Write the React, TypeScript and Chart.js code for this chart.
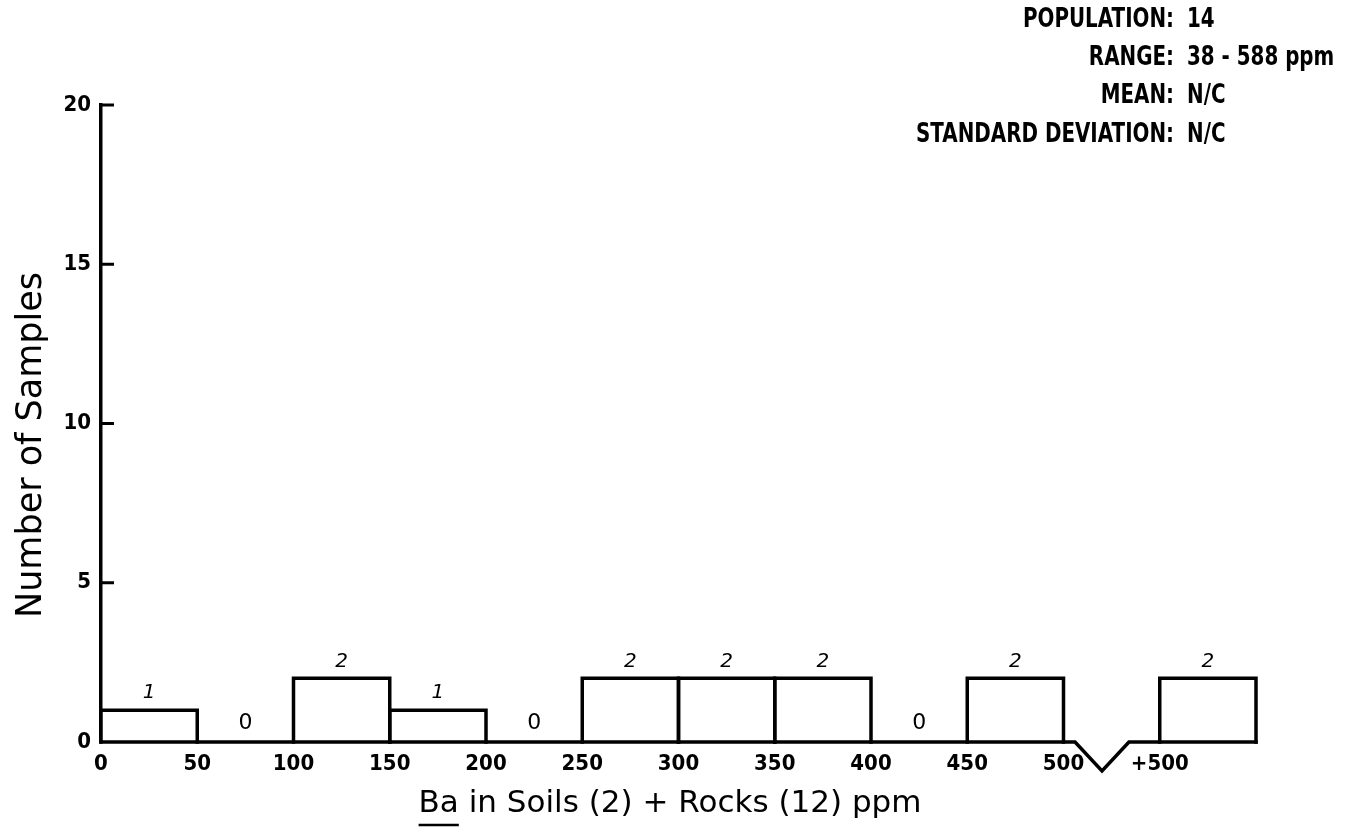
import React, { useEffect, useRef } from "react";
import { Chart, registerables } from "chart.js";

Chart.register(...registerables);

// ---- data ----
const binStarts = [0, 50, 100, 150, 200, 250, 300, 350, 400, 450, 550];
const binCounts = [1, 0, 2, 1, 0, 2, 2, 2, 0, 2, 2];
const binWidth = 50;
const xTickValues = [0, 50, 100, 150, 200, 250, 300, 350, 400, 450, 500, 550];
const xTickLabels = ["0", "50", "100", "150", "200", "250", "300", "350", "400", "450", "500", "+500"];
const yTickValues = [0, 5, 10, 15, 20];
const statLabels = ["POPULATION:", "RANGE:", "MEAN:", "STANDARD DEVIATION:"];
const statValues = ["14", "38 - 588 ppm", "N/C", "N/C"];
const xTitleUnderlined = "Ba";
const xTitleRest = " in Soils (2) + Rocks (12) ppm";
const yTitle = "Number of Samples";
const axisBreak = [506, 520, 534]; // start, bottom of V, end (x units)

const FONT = "'DejaVu Sans', sans-serif";
const COND = "'DejaVu Sans Condensed', 'Liberation Sans Narrow', 'DejaVu Sans', sans-serif";
const LINE = 3.5;

const decorPlugin = {
  id: "decor",
  afterDatasetsDraw(chart: any) {
    const ctx = chart.ctx;
    const xs = chart.scales.x;
    const ys = chart.scales.y;
    const base = ys.getPixelForValue(0);
    ctx.save();
    ctx.strokeStyle = "#000";
    ctx.fillStyle = "#000";
    ctx.lineWidth = LINE;
    ctx.lineJoin = "miter";
    ctx.lineCap = "square";
    // bar outlines
    const meta = chart.getDatasetMeta(0);
    meta.data.forEach((el: any, i: number) => {
      if (!binCounts[i]) return;
      const l = el.x - el.width / 2;
      const r = el.x + el.width / 2;
      ctx.beginPath();
      ctx.moveTo(l, el.base);
      ctx.lineTo(l, el.y);
      ctx.lineTo(r, el.y);
      ctx.lineTo(r, el.base);
      ctx.stroke();
    });
    // baseline with break
    ctx.lineCap = "butt";
    const b0 = xs.getPixelForValue(axisBreak[0]);
    const b1 = xs.getPixelForValue(axisBreak[1]);
    const b2 = xs.getPixelForValue(axisBreak[2]);
    ctx.beginPath();
    ctx.moveTo(xs.left - LINE / 2, base);
    ctx.lineTo(b0, base);
    ctx.lineTo(b1, base + 29);
    ctx.lineTo(b2, base);
    ctx.lineTo(xs.right + LINE / 2, base);
    ctx.stroke();
    // y tick marks (inside)
    ctx.lineWidth = 3;
    yTickValues.forEach((v) => {
      if (v === 0) return;
      const py = ys.getPixelForValue(v);
      ctx.beginPath();
      ctx.moveTo(xs.left, py);
      ctx.lineTo(xs.left + 13, py);
      ctx.stroke();
    });
    // bar count labels
    ctx.textAlign = "center";
    ctx.textBaseline = "middle";
    meta.data.forEach((el: any, i: number) => {
      const c = binCounts[i];
      ctx.font = c === 0 ? "22px " + FONT : "italic 20px " + FONT;
      ctx.fillText(String(c), el.x, el.y - (c === 0 ? 19 : 17));
    });
    // stats block (tall, narrow lettering)
    ctx.font = "bold 26px " + FONT;
    const widest = ctx.measureText(statLabels[3]).width;
    const sx = 258 / widest;
    const colonX = 1174;
    statLabels.forEach((lab, i) => {
      const y = 20 + i * 38.3;
      ctx.save();
      ctx.translate(colonX, y);
      ctx.scale(sx, 1);
      ctx.textAlign = "right";
      ctx.fillText(lab, 0, 0);
      ctx.textAlign = "left";
      ctx.fillText(statValues[i], 13 / sx, 0);
      ctx.restore();
    });
    // x title with underlined part
    ctx.font = "31px " + FONT;
    ctx.textBaseline = "alphabetic";
    const w1 = ctx.measureText(xTitleUnderlined).width;
    const w2 = ctx.measureText(xTitleRest).width;
    const cx = 670;
    const startX = cx - (w1 + w2) / 2;
    const ty = 812;
    ctx.textAlign = "left";
    ctx.fillText(xTitleUnderlined, startX, ty);
    ctx.fillText(xTitleRest, startX + w1, ty);
    ctx.lineWidth = 2.5;
    ctx.beginPath();
    ctx.moveTo(startX, ty + 13);
    ctx.lineTo(startX + w1, ty + 13);
    ctx.stroke();
    // y title
    ctx.translate(32, 445);
    ctx.rotate(-Math.PI / 2);
    ctx.textAlign = "center";
    ctx.textBaseline = "middle";
    ctx.font = "35px " + FONT;
    ctx.fillText(yTitle, 0, 0);
    ctx.restore();
  },
};

export default function App() {
  const ref = useRef<HTMLCanvasElement | null>(null);
  useEffect(() => {
    if (!ref.current) return;
    const chart = new Chart(ref.current, {
      type: "bar",
      data: {
        datasets: [
          {
            data: binStarts.map((s, i) => ({ x: s + binWidth / 2, y: binCounts[i] })),
            backgroundColor: "#fff",
            borderWidth: 0,
            barPercentage: 1,
            categoryPercentage: 1,
          },
        ],
      },
      options: {
        responsive: false,
        animation: false,
        devicePixelRatio: 1,
        layout: { padding: { left: 0, right: 104, top: 105, bottom: 0 } },
        plugins: { legend: { display: false }, tooltip: { enabled: false }, title: { display: false } },
        scales: {
          x: {
            type: "linear",
            min: 0,
            max: 600,
            offset: false,
            grid: { display: false, drawTicks: false },
            border: { display: false },
            afterBuildTicks: (axis: any) => {
              axis.ticks = xTickValues.map((v) => ({ value: v }));
            },
            afterFit: (axis: any) => {
              axis.height = 89;
            },
            ticks: {
              autoSkip: false,
              maxRotation: 0,
              padding: 9,
              color: "#000",
              font: { family: COND, size: 22, weight: "bold" },
              callback: (v: any) => {
                const i = xTickValues.indexOf(Number(v));
                return i >= 0 ? xTickLabels[i] : "";
              },
            },
          },
          y: {
            min: 0,
            max: 20,
            grid: { display: false, drawTicks: false },
            border: { display: true, color: "#000", width: LINE },
            afterBuildTicks: (axis: any) => {
              axis.ticks = yTickValues.map((v) => ({ value: v }));
            },
            afterFit: (axis: any) => {
              axis.width = 101;
            },
            ticks: {
              padding: 10,
              color: "#000",
              font: { family: COND, size: 22, weight: "bold" },
            },
          },
        },
      },
      plugins: [decorPlugin],
    });
    return () => chart.destroy();
  }, []);
  return (
    <div style={{ position: "absolute", left: 0, top: 0, width: 1360, height: 831, background: "#fff" }}>
      <canvas ref={ref} width={1360} height={831} style={{ display: "block" }} />
    </div>
  );
}
